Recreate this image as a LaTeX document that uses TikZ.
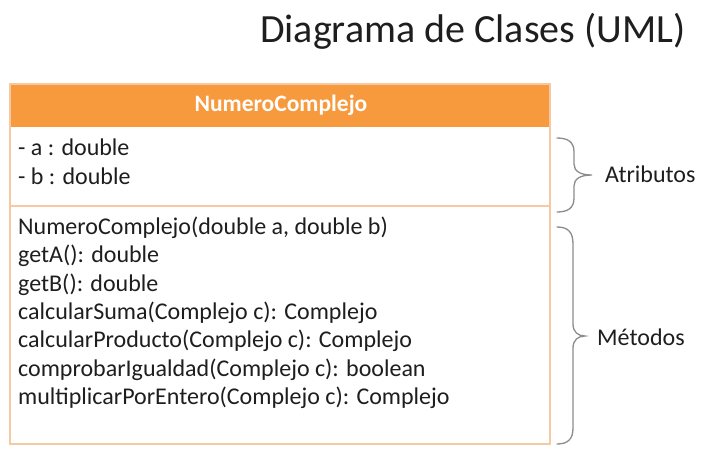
\documentclass[tikz,border=0pt]{standalone}
\usepackage{fontspec}
\setmainfont{Carlito}
\begin{document}
\begin{tikzpicture}[x=1pt,y=-1pt,
  linetext/.style={anchor=base west,inner sep=0pt,text=textgray,font=\fontsize{24}{28}\selectfont},
  bracepath/.style={draw=bracegray,line width=1.3pt,line cap=round},
  sidelabel/.style={anchor=west,inner sep=0pt,text=textgray,font=\fontsize{24}{28}\selectfont}]
\definecolor{headorange}{HTML}{F79A3E}
\definecolor{boxline}{HTML}{F7C9A2}
\definecolor{textgray}{HTML}{1E1E1E}
\definecolor{bracegray}{HTML}{8C8C8C}
\useasboundingbox[fill=white] (0,0) rectangle (723,459);

% title
\node[anchor=base west,inner sep=0pt,text=textgray,font=\fontsize{40}{48}\selectfont] (title) at (260,42) {Diagrama de Clases (UML)};

% class box: header, attributes, methods
\fill[headorange] (10,84) rectangle (550,127);
\draw[boxline,line width=1.2pt] (10,84) rectangle (550,444);
\draw[boxline,line width=1.2pt] (10,206) -- (550,206);
\node[text=white,font=\bfseries\fontsize{23.5}{28}\selectfont,inner sep=0pt] (header) at (281,105.5) {NumeroComplejo};

\node[linetext] (attA) at (18,155) {- a : double};
\node[linetext] (attB) at (18,184) {- b : double};

\node[linetext] (m1) at (18,234) {NumeroComplejo(double a, double b)};
\node[linetext] (m2) at (18,262.5) {getA(): double};
\node[linetext] (m3) at (18,291) {getB(): double};
\node[linetext] (m4) at (18,319) {calcularSuma(Complejo c): Complejo};
\node[linetext] (m5) at (18,347.5) {calcularProducto(Complejo c): Complejo};
\node[linetext] (m6) at (18,376) {comprobarIgualdad(Complejo c): boolean};
\node[linetext] (m7) at (18,404) {multiplicarPorEntero(Complejo c): Complejo};

% braces
\coordinate (braceA) at (592,175);
\draw[bracepath] (557,138) .. controls (568,138) and (574,142) .. (574,152) -- (574,164)
  .. controls (574,171) and (580,175) .. (braceA)
  .. controls (580,175) and (574,179) .. (574,186) -- (574,198)
  .. controls (574,208) and (568,212) .. (557,212);
\coordinate (braceM) at (585,336);
\draw[bracepath] (557,227) .. controls (568,227) and (573,232) .. (573,244) -- (573,324)
  .. controls (573,332) and (578,336) .. (braceM)
  .. controls (578,336) and (573,340) .. (573,348) -- (573,428)
  .. controls (573,439) and (568,444) .. (557,444);

\node[sidelabel] (atributos) at (605,174) {Atributos};
\node[sidelabel] (metodos) at (597,337) {Métodos};
\end{tikzpicture}
\end{document}
